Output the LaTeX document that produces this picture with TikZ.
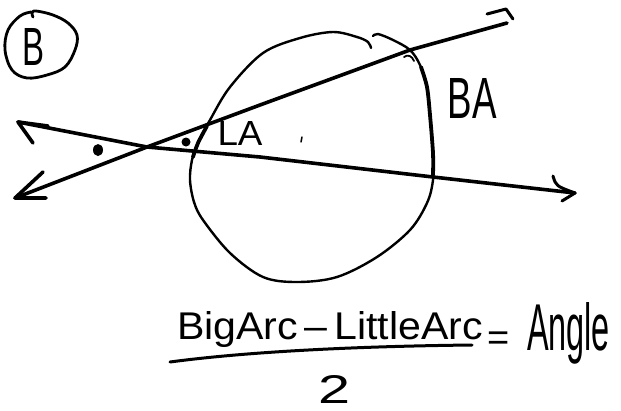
\documentclass[tikz,border=0pt]{standalone}
\usepackage{fontspec}
\setmainfont{Liberation Sans}
\usepackage{graphicx}
\begin{document}
\begin{tikzpicture}[x=1pt,y=-1pt, line cap=round, line join=round,
  ln/.style={line width=3.6pt},
  circ/.style={line width=2.4pt},
  boldarc/.style={line width=3.8pt},
  hw/.style={inner sep=0pt, outer sep=0pt}]
\useasboundingbox (0,0) rectangle (621,410);

% circled label
\draw[line width=2.8pt] plot[smooth, tension=0.6] coordinates {(33,17) (32,13) (36,11) (53,15) (68,23) (77,35) (75,50) (65,67) (47,75) (27,78) (12,70) (5,50) (8,30) (20,16) (31,12)};
\node[hw] (b) at (34,47) {\resizebox{22pt}{37pt}{B}};

% circle
\draw[circ] plot[smooth, tension=0.55] coordinates {(371,48) (368,42) (357,37) (333,32) (300,38) (263,53) (230,87) (210,120) (198,143) (192,160) (190,180) (194,202) (203,220) (230,253) (263,277) (297,282) (337,277) (377,257) (410,230) (427,203) (433,180) (433,153) (430,115) (427,87) (420,65) (410,50) (393,40) (378,34) (373,36)};
\draw[boldarc] plot[smooth] coordinates {(207,126) (198,143) (193,157)};
\draw[boldarc] plot[smooth] coordinates {(421,67) (427,87) (430,115) (433,153) (433,175)};
\draw[line width=1.8pt] (404,57) .. controls (408,54) and (412,56) .. (414,61);

% secant lines
\coordinate (L1a) at (15,198);
\coordinate (X) at (147,147);
\coordinate (L1b) at (507,23);
\coordinate (L2a) at (18,122);
\coordinate (L2b) at (575,193);
\draw[ln] (L1a) -- (X) -- (260,105) -- (410,50) -- (L1b);
\draw[ln] (L2a) -- (X) -- (260,157) -- (433,177) -- (L2b);
% arrowheads
\draw[ln] (43,172) -- (L1a) -- (46,198);
\draw[ln] (33,143) -- (L2a) -- (48,126);
\draw[line width=3pt] (487,14) -- (506,9) -- (513,19);
\draw[line width=3pt] (553,176) .. controls (556,186) .. (L2b) -- (562,201);

% dots
\fill (98,150) ellipse [x radius=5pt, y radius=6pt];
\fill (186,142) circle [radius=4.5pt];
\draw[line width=1.5pt] (302,137) -- (301,142);

% labels
\node[hw] (la) at (240,133) {\resizebox{45pt}{24pt}{LA}};
\node[hw] (ba) at (472,98) {\resizebox{49pt}{40pt}{BA}};

% formula
\node[hw, anchor=base west] (num) at (177,339) {\resizebox{306pt}{28pt}{BigArc\,--\,LittleArc}};
\draw[line width=3pt] (170,362) .. controls (260,350) and (380,346) .. (472,345);
\node[hw] (den) at (335,389) {\resizebox{32pt}{28pt}{2}};
\node[hw, anchor=base] (eq) at (499,350) {\fontsize{38}{40}\selectfont =};
\node[hw, anchor=base west] (ang) at (527,350) {\resizebox{83pt}{48pt}{Angle}};
\end{tikzpicture}
\end{document}
